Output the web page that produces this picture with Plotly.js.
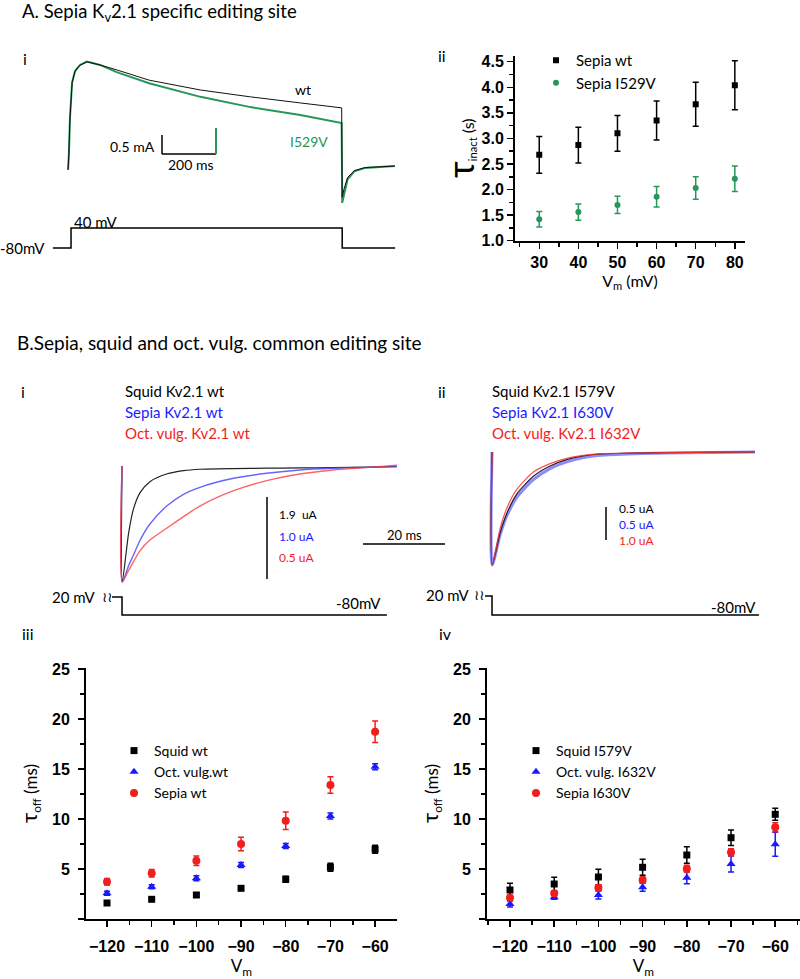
<!DOCTYPE html>
<html>
<head>
<meta charset="utf-8">
<script src="https://cdn.plot.ly/plotly-3.0.1.min.js"></script>
<style>
  body { margin: 0; background: #fff; }
  #fig { width: 800px; height: 979px; }
</style>
</head>
<body>
<div id="fig"></div>
<script>
// ---- A-i: Sepia Kv2.1 currents, step to 40 mV (time ms, current mA)
const aTime   = [0, 3, 7, 15, 26, 44, 70, 118, 180, 300, 490, 675, 860, 1013, 1015, 1022, 1035, 1060, 1100, 1210];
const aWt     = [-0.1, 0.3, 1.25, 2.2, 2.5, 2.65, 2.74, 2.66, 2.53, 2.26, 2.0, 1.82, 1.66, 1.53, -0.82, -0.6, -0.3, -0.12, -0.04, 0];
const aI529V  = [-0.1, 0.3, 1.25, 2.2, 2.5, 2.66, 2.75, 2.66, 2.47, 2.18, 1.82, 1.55, 1.34, 1.13, -0.97, -0.72, -0.35, -0.14, -0.05, 0];
const aProtoT = [-56, 11, 11, 1015, 1015, 1211];
const aProtoV = [-80, -80, 40, 40, -80, -80];

// ---- A-ii: tau inact (s) vs Vm (mV)
const vmA        = [30, 40, 50, 60, 70, 80];
const tauWt      = [2.68, 2.87, 3.10, 3.35, 3.67, 4.04];
const tauWtErr   = [0.36, 0.35, 0.35, 0.38, 0.43, 0.48];
const tauMut     = [1.42, 1.56, 1.70, 1.86, 2.03, 2.21];
const tauMutErr  = [0.15, 0.16, 0.17, 0.20, 0.22, 0.25];

// ---- B-i / B-ii: normalised tail currents at -80 mV (time ms)
const tB1       = [0, 0.05, 1.6, 2.8, 4.4, 6.8, 10.9, 15.0, 19.0, 27.2, 35.3, 43.4, 51.5, 59.7, 67.0];
const squidWtI  = [0, -1, -0.58, -0.37, -0.23, -0.135, -0.069, -0.04, -0.028, -0.022, -0.019, -0.017, -0.014, -0.01, -0.003];
const sepiaWtI  = [0, -1, -0.86, -0.767, -0.64, -0.5, -0.345, -0.244, -0.184, -0.106, -0.063, -0.034, -0.02, -0.012, -0.006];
const octWtI    = [0, -1, -0.9, -0.825, -0.73, -0.638, -0.537, -0.437, -0.345, -0.213, -0.126, -0.069, -0.034, -0.014, 0.006];
const tB2       = [0, 0.05, 1.95, 3.58, 6.0, 10.1, 14.15, 18.2, 22.3, 26.3, 34.5, 42.6, 64.1];
const squidMutI = [0, -1, -0.72, -0.546, -0.375, -0.215, -0.124, -0.068, -0.035, -0.018, -0.009, -0.006, 0];
const sepiaMutI = [0, -1, -0.737, -0.569, -0.404, -0.245, -0.147, -0.088, -0.05, -0.03, -0.015, -0.009, 0];
const octMutI   = [0, -1, -0.68, -0.50, -0.333, -0.177, -0.103, -0.056, -0.03, -0.015, -0.009, -0.006, 0];
const bProto1T  = [-2.44, 0, 0, 64.6];
const bProto2T  = [-1.7, 0, 0, 65.1];
const bProtoV   = [20, 20, -80, -80];

// ---- B-iii / B-iv: tau off (ms) vs Vm
const vmB         = [-120, -110, -100, -90, -80, -70, -60];
const squidWt     = [1.6, 1.97, 2.4, 3.07, 3.97, 5.17, 6.97];
const squidWtErr  = [0.15, 0.15, 0.2, 0.2, 0.3, 0.4, 0.4];
const octWt       = [2.57, 3.23, 4.07, 5.4, 7.3, 10.3, 15.23];
const octWtErr    = [0.2, 0.2, 0.25, 0.25, 0.25, 0.3, 0.3];
const sepiaWt     = [3.73, 4.57, 5.83, 7.5, 9.83, 13.4, 18.73];
const sepiaWtErr  = [0.33, 0.37, 0.47, 0.67, 0.88, 0.83, 1.08];
const squidMut    = [2.9, 3.5, 4.2, 5.17, 6.4, 8.13, 10.47];
const squidMutErr = [0.67, 0.67, 0.77, 0.8, 0.83, 0.77, 0.6];
const octMut      = [1.5, 2.17, 2.4, 3.17, 4.13, 5.5, 7.47];
const octMutErr   = [0.3, 0.2, 0.4, 0.4, 0.6, 0.8, 1.2];
const sepiaMut    = [2.13, 2.57, 3.13, 3.9, 5.03, 6.67, 9.17];
const sepiaMutErr = [0.25, 0.25, 0.3, 0.3, 0.35, 0.35, 0.45];

const GREEN = '#279659', BLUE = '#1a1aff', RED = '#f21d1d';
const W = 800, H = 979;
const px = x => x / W;
const py = y => 1 - y / H;
const xDom = (a, b) => [a / W, b / W];
const yDom = (top, bottom) => [1 - bottom / H, 1 - top / H];
const TEXT = 'Lato, Liberation Sans, sans-serif';

function line(x, y, xa, ya, color, width, opacity, shape) {
    return { x: x, y: y, xaxis: xa, yaxis: ya, type: 'scatter', mode: 'lines',
             line: { color: color, width: width, shape: shape || 'linear', smoothing: 0.7 },
             opacity: opacity || 1, showlegend: false, hoverinfo: 'skip' };
}

function points(x, y, err, xa, ya, name, symbol, color, size, legend) {
    return { x: x, y: y, xaxis: xa, yaxis: ya, type: 'scatter', mode: 'markers', name: name,
             legend: legend,
             marker: { symbol: symbol, color: color, size: size },
             error_y: { type: 'data', array: err, color: color, thickness: 1.5, width: 3 } };
}

const data = [
    // A-i
    line(aTime, aI529V, 'x', 'y', GREEN, 2),
    line(aTime, aWt, 'x', 'y', '#111', 1),
    line(aProtoT, aProtoV, 'x', 'y2', '#000', 1.5),
    // A-ii
    points(vmA, tauWt, tauWtErr, 'x2', 'y3', 'Sepia wt', 'square', '#000', 6, 'legend'),
    points(vmA, tauMut, tauMutErr, 'x2', 'y3', 'Sepia I529V', 'circle', GREEN, 6, 'legend'),
    // B-i
    line(tB1, squidWtI, 'x3', 'y4', '#222', 1.2, 1, 'spline'),
    line(tB1, sepiaWtI, 'x3', 'y4', '#4b4bff', 1.4, 0.85, 'spline'),
    line(tB1, octWtI, 'x3', 'y4', '#ff3b3b', 1.4, 0.8, 'spline'),
    line(bProto1T, bProtoV, 'x3', 'y5', '#000', 1.5),
    // B-ii
    line(tB2, sepiaMutI, 'x4', 'y6', '#5a5aff', 3, 0.7, 'spline'),
    line(tB2, squidMutI, 'x4', 'y6', '#222', 1.2, 1, 'spline'),
    line(tB2, octMutI, 'x4', 'y6', '#ff3030', 1.2, 0.85, 'spline'),
    line(bProto2T, bProtoV, 'x4', 'y7', '#000', 1.5),
    // B-iii
    points(vmB, squidWt, squidWtErr, 'x5', 'y8', 'Squid wt', 'square', '#000', 7, 'legend2'),
    points(vmB, octWt, octWtErr, 'x5', 'y8', 'Oct. vulg.wt', 'triangle-up', BLUE, 8, 'legend2'),
    points(vmB, sepiaWt, sepiaWtErr, 'x5', 'y8', 'Sepia wt', 'circle', RED, 8, 'legend2'),
    // B-iv
    points(vmB, squidMut, squidMutErr, 'x6', 'y9', 'Squid I579V', 'square', '#000', 7, 'legend3'),
    points(vmB, octMut, octMutErr, 'x6', 'y9', 'Oct. vulg. I632V', 'triangle-up', BLUE, 8, 'legend3'),
    points(vmB, sepiaMut, sepiaMutErr, 'x6', 'y9', 'Sepia I630V', 'circle', RED, 8, 'legend3')
];

function hidden(domain, range, anchor) {
    return { domain: domain, range: range, anchor: anchor, visible: false, fixedrange: true };
}

function minorTicks(tick0, dtick) {
    return { tickmode: 'linear', tick0: tick0, dtick: dtick, ticks: 'outside', ticklen: 4,
             tickwidth: 1.5, tickcolor: '#000', showgrid: false };
}

function plotAxis(extra) {
    return Object.assign({
        showline: true, linecolor: '#000', linewidth: 2,
        ticks: 'outside', ticklen: 6, tickwidth: 1.5, tickcolor: '#000',
        showgrid: false, zeroline: false, automargin: false, fixedrange: true,
        tickfont: { family: 'Liberation Sans, Arial', size: 16, color: '#000', weight: 'bold' }
    }, extra);
}

function label(x, y, text, o) {
    o = o || {};
    const font = Object.assign({ family: TEXT, size: 15, color: '#000' }, o.font || {});
    return Object.assign({ xref: 'paper', yref: 'paper', x: px(x), y: py(y), text: text,
                           showarrow: false, xanchor: 'left', yanchor: 'middle' }, o, { font: font });
}

function bar(x0, y0, x1, y1, color, width) {
    return { type: 'line', xref: 'paper', yref: 'paper', x0: px(x0), y0: py(y0), x1: px(x1), y1: py(y1),
             line: { color: color, width: width } };
}

const legendStyle = { xanchor: 'left', yanchor: 'top', bgcolor: 'rgba(0,0,0,0)',
                      font: { family: TEXT, size: 14, color: '#000' }, itemwidth: 30, tracegroupgap: 0 };

const layout = {
    width: W, height: H,
    margin: { l: 0, r: 0, t: 0, b: 0 },
    paper_bgcolor: '#fff', plot_bgcolor: 'rgba(0,0,0,0)',
    font: { family: TEXT, color: '#000' },
    showlegend: true,

    // A-i traces and protocol
    xaxis: hidden(xDom(0, 400), [-252, 1229], 'y'),
    yaxis: hidden(yDom(40, 215), [-1.289, 3.316], 'x'),
    yaxis2: hidden(yDom(215, 262), [-164, 118], 'x'),

    // A-ii
    xaxis2: plotAxis({ domain: xDom(515, 745), anchor: 'y3', range: [23.8, 82.6],
        tickmode: 'linear', tick0: 30, dtick: 10, minor: minorTicks(25, 5),
        title: { text: 'V<sub>m</sub> (mV)', font: { family: TEXT, size: 16 }, standoff: 0 } }),
    yaxis3: plotAxis({ domain: yDom(55.6, 240.7), anchor: 'x2', range: [1, 4.62],
        tickmode: 'linear', tick0: 1, dtick: 0.5, tickformat: '.1f', minor: minorTicks(1, 0.25),
        title: { text: "<span style='font-size:36px'>τ</span><sub>inact</sub> (s)", font: { family: TEXT, size: 16 }, standoff: 2 } }),

    // B-i traces and protocol
    xaxis3: hidden(xDom(100, 400), [-5.37, 67.8], 'y4'),
    yaxis4: hidden(yDom(445, 590), [-1.069, 0.181], 'x3'),
    yaxis5: hidden(yDom(585, 625), [-135.6, 86.7], 'x3'),

    // B-ii traces and protocol
    xaxis4: hidden(xDom(470, 800), [-5.37, 75.1], 'y6'),
    yaxis6: hidden(yDom(440, 580), [-1.133, 0.106], 'x4'),
    yaxis7: hidden(yDom(583, 625), [-132.6, 88.4], 'x4'),

    // B-iii
    xaxis5: plotAxis({ domain: xDom(86, 397), anchor: 'y8', range: [-124.7, -55.1],
        tickmode: 'linear', tick0: -120, dtick: 10, ticklabelstandoff: 6, minor: minorTicks(-125, 5),
        title: { text: 'V<sub>m</sub>', font: { family: TEXT, size: 17 }, standoff: 6 } }),
    yaxis8: plotAxis({ domain: yDom(668, 919), anchor: 'x5', range: [0, 25.1],
        tickmode: 'array', tickvals: [0, 5, 10, 15, 20, 25], ticktext: ['', '5', '10', '15', '20', '25'],
        ticklabelstandoff: 5, minor: minorTicks(0, 2.5),
        title: { text: "<span style='font-size:22px'>τ</span><sub>off</sub> (ms)", font: { family: TEXT, size: 17 }, standoff: 10 } }),

    // B-iv
    xaxis6: plotAxis({ domain: xDom(487, 800), anchor: 'y9', range: [-125.2, -54.4],
        tickmode: 'linear', tick0: -120, dtick: 10, ticklabelstandoff: 6, minor: minorTicks(-125, 5),
        title: { text: 'V<sub>m</sub>', font: { family: TEXT, size: 17 }, standoff: 6 } }),
    yaxis9: plotAxis({ domain: yDom(668, 919), anchor: 'x6', range: [0, 25.1],
        tickmode: 'array', tickvals: [0, 5, 10, 15, 20, 25], ticktext: ['', '5', '10', '15', '20', '25'],
        ticklabelstandoff: 5, minor: minorTicks(0, 2.5),
        title: { text: "<span style='font-size:22px'>τ</span><sub>off</sub> (ms)", font: { family: TEXT, size: 17 }, standoff: 10 } }),

    legend: Object.assign({ x: px(536), y: py(44) }, legendStyle, { font: { family: TEXT, size: 15, color: '#000' } }),
    legend2: Object.assign({ x: px(114), y: py(735) }, legendStyle),
    legend3: Object.assign({ x: px(516), y: py(735) }, legendStyle),

    shapes: [
        bar(162, 135, 162, 154, '#000', 1.5),
        bar(162, 154, 216, 154, '#000', 1.5),
        bar(216, 128, 216, 154, GREEN, 2),
        bar(267, 497, 267, 579, '#000', 1.5),
        bar(363, 544, 445, 544, '#000', 1.5),
        bar(606, 507, 606, 540, '#000', 1.5)
    ],

    annotations: [
        label(20, 13, 'A. Sepia K<sub>v</sub>2.1 specific editing site', { font: { size: 18.5 } }),
        label(25, 58, 'i', { xanchor: 'center', font: { size: 16 } }),
        label(442, 55, 'ii', { xanchor: 'center', font: { size: 16 } }),
        label(303, 90, 'wt', { xanchor: 'center', font: { size: 14 } }),
        label(309, 141, 'I529V', { xanchor: 'center', font: { size: 14, color: GREEN } }),
        label(157, 146, '0.5 mA', { xanchor: 'right', font: { size: 14 } }),
        label(191, 165, '200 ms', { xanchor: 'center', font: { size: 14 } }),
        label(72, 222, '40 mV', { font: { size: 15 } }),
        label(47, 248, '-80mV', { xanchor: 'right', font: { size: 15 } }),

        label(15, 342, 'B.Sepia, squid and oct. vulg. common editing site', { font: { size: 19 } }),
        label(23, 391, 'i', { xanchor: 'center', font: { size: 16 } }),
        label(442, 391, 'ii', { xanchor: 'center', font: { size: 16 } }),
        label(123, 391, 'Squid Kv2.1 wt'),
        label(123, 412, 'Sepia Kv2.1 wt', { font: { color: BLUE } }),
        label(123, 433, 'Oct. vulg. Kv2.1 wt', { font: { color: RED } }),
        label(490, 391, 'Squid Kv2.1 I579V'),
        label(490, 412, 'Sepia Kv2.1 I630V', { font: { color: BLUE } }),
        label(490, 433, 'Oct. vulg. Kv2.1 I632V', { font: { color: RED } }),

        label(277, 514, '1.9  uA', { font: { size: 12 } }),
        label(277, 536, '1.0 uA', { font: { size: 12, color: BLUE } }),
        label(277, 557, '0.5 uA', { font: { size: 12, color: RED } }),
        label(404, 535, '20 ms', { xanchor: 'center', font: { size: 13 } }),
        label(617, 508, '0.5 uA', { font: { size: 12 } }),
        label(617, 524, '0.5 uA', { font: { size: 12, color: BLUE } }),
        label(617, 540, '1.0 uA', { font: { size: 12, color: RED } }),

        label(98, 597, '20 mV', { xanchor: 'right', font: { size: 15 } }),
        label(107, 597, '≀≀', { xanchor: 'center', font: { family: 'DejaVu Sans', size: 14 } }),
        label(383, 603, '-80mV', { xanchor: 'right', font: { size: 15 } }),
        label(472, 595, '20 mV', { xanchor: 'right', font: { size: 15 } }),
        label(479, 595, '≀≀', { xanchor: 'center', font: { family: 'DejaVu Sans', size: 14 } }),
        label(758, 607, '-80mV', { xanchor: 'right', font: { size: 15 } }),

        label(28, 633, 'iii', { xanchor: 'center', font: { size: 16 } }),
        label(445, 633, 'iv', { xanchor: 'center', font: { size: 16 } })
    ]
};

Plotly.newPlot('fig', data, layout, { displayModeBar: false, staticPlot: true });
</script>
</body>
</html>
